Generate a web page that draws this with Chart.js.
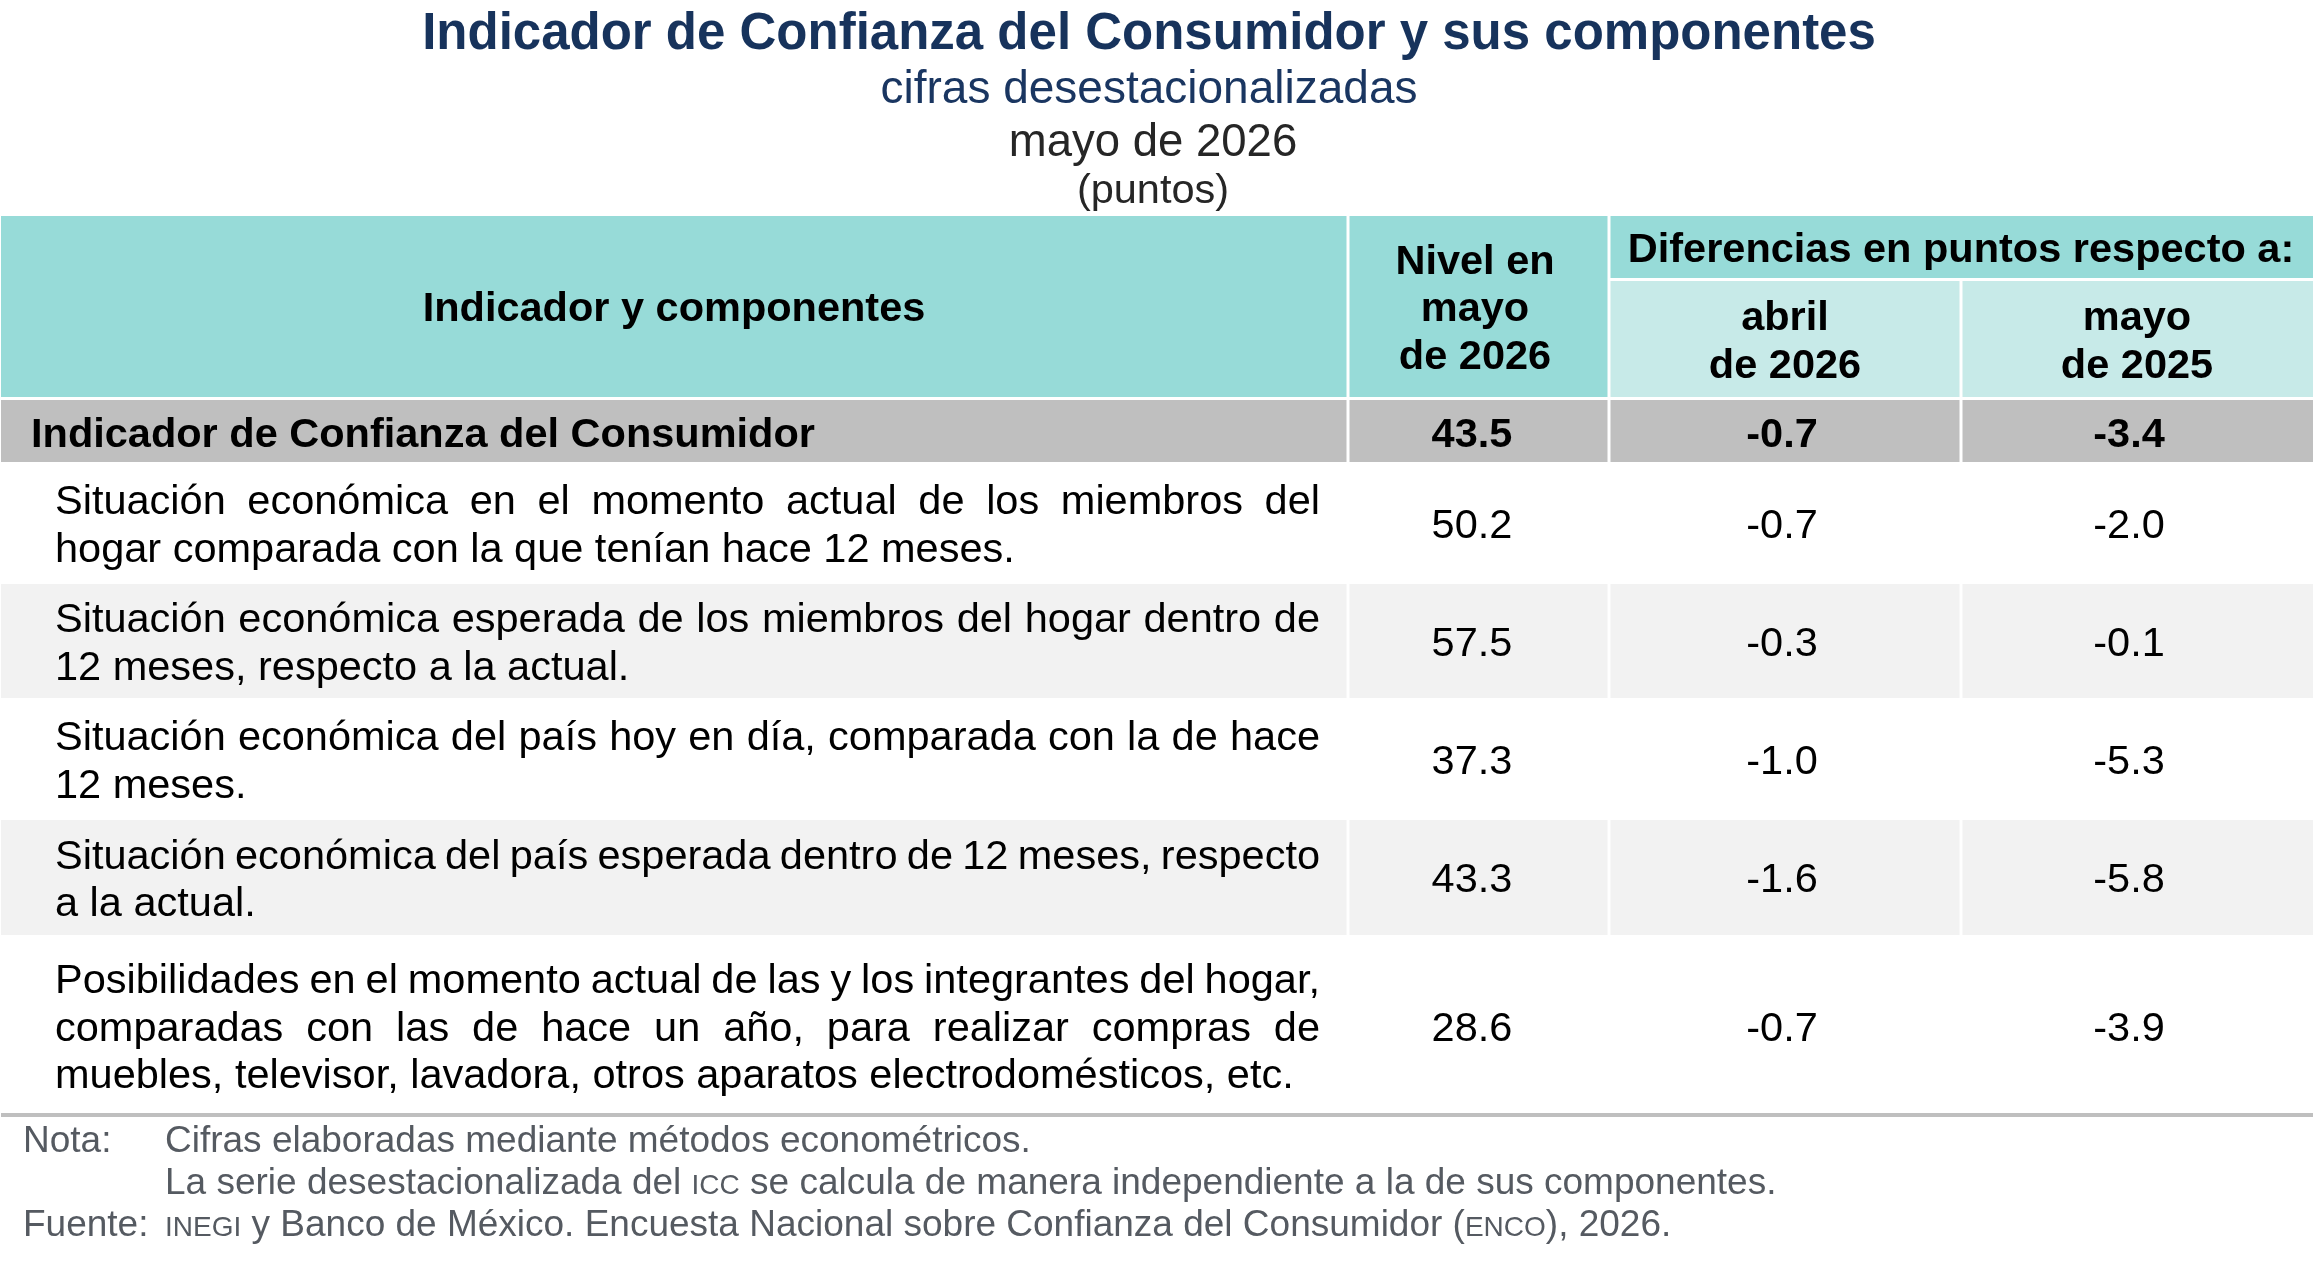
<!DOCTYPE html>
<html>
<head>
<meta charset="utf-8">
<script src="https://cdn.jsdelivr.net/npm/chart.js@4.4.1/dist/chart.umd.min.js"></script>
<style>
html,body{margin:0;padding:0;background:#fff;overflow:hidden;}
canvas{display:block;}
</style>
</head>
<body>
<canvas id="c" width="2314" height="1262"></canvas>
<script>
// ---------- DATA ----------
const title = 'Indicador de Confianza del Consumidor y sus componentes';
const subtitle = 'cifras desestacionalizadas';
const period = 'mayo de 2026';
const units = '(puntos)';
const headerLabel = 'Indicador y componentes';
const headerNivel = ['Nivel en', 'mayo', 'de 2026'];
const headerDif = 'Diferencias en puntos respecto a:';
const headerDifCols = [['abril', 'de 2026'], ['mayo', 'de 2025']];
const categories = [
  ['Indicador de Confianza del Consumidor'],
  ['Situación económica en el momento actual de los miembros del', 'hogar comparada con la que tenían hace 12 meses.'],
  ['Situación económica esperada de los miembros del hogar dentro de', '12 meses, respecto a la actual.'],
  ['Situación económica del país hoy en día, comparada con la de hace', '12 meses.'],
  ['Situación económica del país esperada dentro de 12 meses, respecto', 'a la actual.'],
  ['Posibilidades en el momento actual de las y los integrantes del hogar,', 'comparadas con las de hace un año, para realizar compras de', 'muebles, televisor, lavadora, otros aparatos electrodomésticos, etc.']
];
const nivel = [43.5, 50.2, 57.5, 37.3, 43.3, 28.6];
const difAbril = [-0.7, -0.7, -0.3, -1.0, -1.6, -0.7];
const difMayo = [-3.4, -2.0, -0.1, -5.3, -5.8, -3.9];
const noteLabel = 'Nota:';
const noteLines = [
  [{t: 'Cifras elaboradas mediante métodos econométricos.'}],
  [{t: 'La serie desestacionalizada del '}, {t: 'ICC', sc: true}, {t: ' se calcula de manera independiente a la de sus componentes.'}]
];
const sourceLabel = 'Fuente:';
const sourceLine = [{t: 'INEGI', sc: true}, {t: ' y Banco de México. Encuesta Nacional sobre Confianza del Consumidor ('}, {t: 'ENCO', sc: true}, {t: '), 2026.'}];

// ---------- LAYOUT ----------
const W = 2314, H = 1262;
const FAM = '"Liberation Sans", Arial, Helvetica, sans-serif';
const L = {
  colEdges: [1, 1348, 1609, 1961, 2313],
  gap: 3,
  headTop: 216, headBottom: 397, headSplit: 278, subTop: 281,
  rowEdges: [[400, 462], [463, 583], [584, 698], [699, 819], [820, 935], [936, 1112]],
  rowFill: ['#BFBFBF', '#FFFFFF', '#F2F2F2', '#FFFFFF', '#F2F2F2', '#FFFFFF'],
  rowCenterAdj: [1, 0, 0, 0, 0, 2],
  teal: '#97DBD8', tealLight: '#C7EAE8',
  lineH: 47.5, bodySize: 41.5,
  textLeft: 55, textRight: 1320, boldLeft: 31,
  valueX: [1472, 1782, 2129],
  headCenters: {label: 674, nivel: 1475, dif: 1961, sub: [1785, 2137]},
  bottomLine: [1113, 4]
};

function fnt(size, bold) { return (bold ? 'bold ' : '') + size + 'px ' + FAM; }
function fmt(v) { return v.toFixed(1); }

const tablePlugin = {
  id: 'table',
  beforeDraw(chart) {
    const ctx = chart.ctx;
    ctx.save();
    ctx.fillStyle = '#fff';
    ctx.fillRect(0, 0, chart.width, chart.height);
    ctx.restore();
  },
  afterDraw(chart) {
    const ctx = chart.ctx;
    const sx = v => chart.scales.x.getPixelForValue(v);
    const sy = v => chart.scales.y.getPixelForValue(v);
    const rect = (x0, y0, x1, y1, c) => {
      ctx.fillStyle = c;
      ctx.fillRect(sx(x0), sy(y0), sx(x1) - sx(x0), sy(y1) - sy(y0));
    };
    const cap = s => s * 0.716;
    ctx.save();
    ctx.textBaseline = 'alphabetic';

    // Titles
    ctx.textAlign = 'center';
    ctx.fillStyle = '#17335c';
    ctx.font = fnt(51, true);
    ctx.fillText(title, sx(1149), sy(49));
    ctx.fillStyle = '#1a3661';
    ctx.font = fnt(46, false);
    ctx.fillText(subtitle, sx(1149), sy(103));
    ctx.fillStyle = '#262626';
    ctx.font = fnt(45.5, false);
    ctx.fillText(period, sx(1153), sy(156));
    ctx.font = fnt(41.5, false);
    ctx.fillText(units, sx(1153), sy(203));

    // Header cells
    const ce = L.colEdges, g = L.gap / 2;
    const cx0 = i => ce[i] + (i > 0 ? g : 0);
    const cx1 = i => ce[i + 1] - (i < ce.length - 2 ? g : 0);
    rect(cx0(0), L.headTop, cx1(0), L.headBottom, L.teal);
    rect(cx0(1), L.headTop, cx1(1), L.headBottom, L.teal);
    rect(cx0(2), L.headTop, cx1(3), L.headSplit, L.teal);
    rect(cx0(2), L.subTop, cx1(2), L.headBottom, L.tealLight);
    rect(cx0(3), L.subTop, cx1(3), L.headBottom, L.tealLight);

    // Body cells
    L.rowEdges.forEach((r, ri) => {
      for (let c = 0; c < 4; c++) rect(cx0(c), r[0], cx1(c), r[1], L.rowFill[ri]);
    });
    rect(ce[0], L.bottomLine[0], ce[4], L.bottomLine[0] + L.bottomLine[1], '#BFBFBF');

    // Header text
    const bs = L.bodySize;
    const drawLinesCentered = (lines, x, cy, size, bold) => {
      ctx.font = fnt(size, bold);
      const n = lines.length;
      lines.forEach((t, i) => {
        const by = cy + (i - (n - 1) / 2) * L.lineH + cap(size) / 2;
        ctx.fillText(t, sx(x), sy(by));
      });
    };
    ctx.fillStyle = '#000';
    ctx.textAlign = 'center';
    const hc = (L.headTop + L.headBottom) / 2;
    drawLinesCentered([headerLabel], L.headCenters.label, hc, bs, true);
    drawLinesCentered(headerNivel, L.headCenters.nivel, hc, bs, true);
    drawLinesCentered([headerDif], L.headCenters.dif, (L.headTop + L.headSplit) / 2, bs, true);
    headerDifCols.forEach((lines, i) => {
      drawLinesCentered(lines, L.headCenters.sub[i], (L.subTop + L.headBottom) / 2, bs, true);
    });

    // Body text
    const maxW = L.textRight - L.textLeft;
    categories.forEach((lines, ri) => {
      const r = L.rowEdges[ri];
      const cy = (r[0] + r[1]) / 2 + L.rowCenterAdj[ri];
      const bold = ri === 0;
      ctx.font = fnt(bs, bold);
      ctx.fillStyle = '#000';
      const n = lines.length;
      lines.forEach((t, i) => {
        const by = cy + (i - (n - 1) / 2) * L.lineH + cap(bs) / 2;
        if (bold) {
          ctx.textAlign = 'left';
          ctx.fillText(t, sx(L.boldLeft), sy(by));
        } else if (i < n - 1) {
          // justified line
          const words = t.split(' ');
          const ws = words.map(w => ctx.measureText(w).width);
          const sum = ws.reduce((a, b) => a + b, 0);
          const extra = words.length > 1 ? (maxW - sum) / (words.length - 1) : 0;
          ctx.textAlign = 'left';
          let x = L.textLeft;
          words.forEach((w, k) => {
            ctx.fillText(w, sx(x), sy(by));
            x += ws[k] + extra;
          });
        } else {
          ctx.textAlign = 'left';
          ctx.fillText(t, sx(L.textLeft), sy(by));
        }
      });
      const vals = [nivel[ri], difAbril[ri], difMayo[ri]];
      ctx.textAlign = 'center';
      vals.forEach((v, k) => {
        ctx.fillText(fmt(v), sx(L.valueX[k]), sy(cy + cap(bs) / 2));
      });
    });

    // Notes
    const ns = 37, scs = 28;
    const drawRich = (segs, x, y) => {
      ctx.textAlign = 'left';
      let cx = x;
      segs.forEach(s => {
        ctx.font = fnt(s.sc ? scs : ns, false);
        ctx.fillText(s.t, sx(cx), sy(y));
        cx += ctx.measureText(s.t).width;
      });
    };
    ctx.fillStyle = '#555a61';
    ctx.font = fnt(ns, false);
    ctx.textAlign = 'left';
    ctx.fillText(noteLabel, sx(23), sy(1152));
    drawRich(noteLines[0], 165, 1152);
    drawRich(noteLines[1], 165, 1194);
    ctx.font = fnt(ns, false);
    ctx.fillText(sourceLabel, sx(23), sy(1236));
    drawRich(sourceLine, 165, 1236);

    ctx.restore();
  }
};

new Chart(document.getElementById('c'), {
  type: 'scatter',
  data: { datasets: [] },
  options: {
    responsive: false,
    devicePixelRatio: 1,
    animation: false,
    layout: { padding: 0 },
    plugins: { legend: { display: false }, tooltip: { enabled: false }, title: { display: false } },
    scales: {
      x: { type: 'linear', min: 0, max: W, display: false },
      y: { type: 'linear', min: 0, max: H, reverse: true, display: false }
    }
  },
  plugins: [tablePlugin]
});
</script>
</body>
</html>
